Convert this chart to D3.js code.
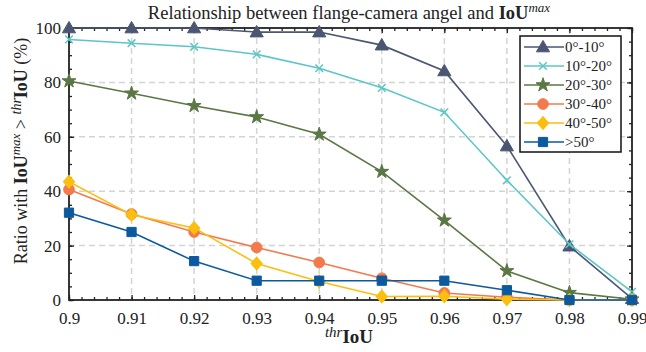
<!DOCTYPE html>
<html>
<head>
<meta charset="utf-8">
<script src="https://cdn.jsdelivr.net/npm/d3@7"></script>
<style>
  body { margin: 0; background: #fff; }
</style>
</head>
<body>
<svg id="chart" width="646" height="352"></svg>
<script>
// thresholds on x
var thresholds = [0.90, 0.91, 0.92, 0.93, 0.94, 0.95, 0.96, 0.97, 0.98, 0.99];

// ratio (%) for each angle range
var angle0to10  = [100, 100, 100, 98.5, 98.5, 93.7, 84.2, 56.6, 19.8, 0.5];
var angle10to20 = [95.8, 94.4, 93.1, 90.3, 85.2, 78.0, 69.0, 44.0, 20.5, 3.0];
var angle20to30 = [80.5, 76.0, 71.4, 67.3, 60.9, 47.2, 29.3, 10.7, 2.7, 0.3];
var angle30to40 = [40.6, 31.6, 25.0, 19.3, 13.8, 8.0, 2.6, 1.0, 0, 0];
var angle40to50 = [43.5, 31.3, 26.5, 13.4, 6.8, 1.3, 1.4, 0.3, 0, 0];
var angleOver50 = [32.1, 25.0, 14.3, 7.1, 7.1, 7.1, 7.1, 3.6, 0, 0];

var seriesNames = ["0°-10°", "10°-20°", "20°-30°", "30°-40°", "40°-50°", ">50°"];
var yTicks = [0, 20, 40, 60, 80, 100];

var colors = ["#4b5672", "#5cc6c7", "#5a7744", "#f27a4d", "#fcbe0f", "#0b5a9f"];
var markers = ["triangle", "times", "star", "circle", "diamond", "square"];

var FONT = "'Liberation Serif'";

var series = [angle0to10, angle10to20, angle20to30, angle30to40, angle40to50, angleOver50]
  .map(function (vals, i) {
    return {
      name: seriesNames[i],
      color: colors[i],
      marker: markers[i],
      points: vals.map(function (v, j) { return {x: thresholds[j], y: v}; })
    };
  });

var svg = d3.select("#chart"),
  pLeft = 69, pRight = 632, pTop = 28, pBottom = 300;

var x = d3.scaleLinear().domain([0.9, 0.99]).range([pLeft, pRight]),
  y = d3.scaleLinear().domain([0, 100]).range([pBottom, pTop]);

// grid
var grid = svg.append("g")
  .attr("stroke", "#d4d4d4")
  .attr("stroke-width", 1.5)
  .attr("stroke-dasharray", "6,4");
thresholds.slice(1, -1).forEach(function (t) {
  grid.append("line").attr("x1", x(t)).attr("x2", x(t)).attr("y1", pTop).attr("y2", pBottom);
});
yTicks.slice(1, -1).forEach(function (t) {
  grid.append("line").attr("x1", pLeft).attr("x2", pRight).attr("y1", y(t)).attr("y2", y(t));
});

// axes: ticks point inward on all four sides
var xMinor = d3.range(0, 46).map(function (i) { return 0.9 + i * 0.002; });
var yMinor = d3.range(0, 21).map(function (i) { return i * 5; });

function styleAxis(g) {
  g.attr("font-family", null);
  g.selectAll("path").remove();
  g.selectAll("line").attr("stroke", "#222").attr("stroke-width", 1.3);
  g.selectAll("text").style("font-family", FONT).style("font-size", "17px").attr("fill", "#222");
}

svg.append("g").attr("transform", "translate(0," + pBottom + ")")
  .call(d3.axisBottom(x).tickValues(xMinor).tickSize(-3).tickFormat(""))
  .call(styleAxis);
svg.append("g").attr("transform", "translate(0," + pBottom + ")")
  .call(d3.axisBottom(x).tickValues(thresholds).tickSize(-5).tickPadding(12)
    .tickFormat(function (d) { return d3.format(".2~f")(d); }))
  .call(styleAxis);
svg.append("g").attr("transform", "translate(0," + pTop + ")")
  .call(d3.axisTop(x).tickValues(xMinor).tickSize(-3).tickFormat(""))
  .call(styleAxis);
svg.append("g").attr("transform", "translate(0," + pTop + ")")
  .call(d3.axisTop(x).tickValues(thresholds).tickSize(-5).tickFormat(""))
  .call(styleAxis);

svg.append("g").attr("transform", "translate(" + pLeft + ",0)")
  .call(d3.axisLeft(y).tickValues(yMinor).tickSize(-3).tickFormat(""))
  .call(styleAxis);
svg.append("g").attr("transform", "translate(" + pLeft + ",0)")
  .call(d3.axisLeft(y).tickValues(yTicks).tickSize(-5).tickPadding(8))
  .call(styleAxis);
svg.append("g").attr("transform", "translate(" + pRight + ",0)")
  .call(d3.axisRight(y).tickValues(yMinor).tickSize(-3).tickFormat(""))
  .call(styleAxis);
svg.append("g").attr("transform", "translate(" + pRight + ",0)")
  .call(d3.axisRight(y).tickValues(yTicks).tickSize(-5).tickFormat(""))
  .call(styleAxis);

svg.append("rect")
  .attr("x", pLeft).attr("y", pTop)
  .attr("width", pRight - pLeft).attr("height", pBottom - pTop)
  .attr("fill", "none").attr("stroke", "#222").attr("stroke-width", 1.8);

// markers
function markerPath(type) {
  if (type === "triangle") return d3.symbol(d3.symbolTriangle, 75)();
  if (type === "times") return d3.symbol(d3.symbolTimes, 40)();
  if (type === "star") return d3.symbol(d3.symbolStar, 60)();
  if (type === "circle") return d3.symbol(d3.symbolCircle, 90)();
  if (type === "diamond") return d3.symbol(d3.symbolSquare, 62)();
  return d3.symbol(d3.symbolSquare, 85)();
}
function drawMarker(g, s, px, py) {
  var m = g.append("path")
    .attr("d", markerPath(s.marker))
    .attr("transform", "translate(" + px + "," + py + ")" +
      (s.marker === "diamond" ? " scale(1,1.15) rotate(45)" : "") +
      (s.marker === "triangle" ? " translate(0,1)" : ""));
  if (s.marker === "times") {
    m.attr("fill", "none").attr("stroke", s.color).attr("stroke-width", 1.5);
  } else {
    m.attr("fill", s.color).attr("stroke", s.color).attr("stroke-width", 1);
  }
}

var line = d3.line().x(function (d) { return x(d.x); }).y(function (d) { return y(d.y); });

series.forEach(function (s) {
  var g = svg.append("g");
  g.append("path").datum(s.points)
    .attr("d", line)
    .attr("fill", "none")
    .attr("stroke", s.color)
    .attr("stroke-width", 1.6);
  s.points.forEach(function (p) { drawMarker(g, s, x(p.x), y(p.y)); });
});

// legend
var legend = svg.append("g").attr("transform", "translate(520,36)");
legend.append("rect")
  .attr("width", 101).attr("height", 116)
  .attr("fill", "#fff").attr("stroke", "#111").attr("stroke-width", 1.5);
series.forEach(function (s, i) {
  var row = legend.append("g").attr("transform", "translate(0," + (11 + i * 19) + ")");
  row.append("line").attr("x1", 4).attr("x2", 44).attr("y1", 0).attr("y2", 0)
    .attr("stroke", s.color).attr("stroke-width", 1.6);
  drawMarker(row, s, 23, 0);
  row.append("text").attr("x", 45).attr("y", 5)
    .style("font-family", FONT).style("font-size", "15px").attr("fill", "#222")
    .text(s.name);
});

// title
var title = svg.append("text").attr("x", 349).attr("y", 19)
  .attr("text-anchor", "middle").attr("fill", "#222")
  .style("font-family", FONT).style("font-size", "18.5px");
title.append("tspan").text("Relationship between flange-camera angel and ");
title.append("tspan").attr("font-weight", "bold").text("IoU");
title.append("tspan").attr("font-style", "italic").style("font-size", "13px").attr("dy", -7).text("max");

// x label
var xl = svg.append("text").attr("x", 349).attr("y", 343)
  .attr("text-anchor", "middle").attr("fill", "#222")
  .style("font-family", FONT).style("font-size", "19px");
xl.append("tspan").attr("font-style", "italic").style("font-size", "15px").attr("dy", -6).text("thr");
xl.append("tspan").attr("font-weight", "bold").attr("dy", 6).text("IoU");

// y label
var yl = svg.append("text")
  .attr("transform", "translate(27,151) rotate(-90)")
  .attr("text-anchor", "middle").attr("fill", "#222")
  .style("font-family", FONT).style("font-size", "18px");
yl.append("tspan").text("Ratio with ");
yl.append("tspan").attr("font-weight", "bold").text("IoU");
yl.append("tspan").attr("font-style", "italic").style("font-size", "13px").attr("dy", -7).text("max");
yl.append("tspan").attr("dy", 7).text(" > ");
yl.append("tspan").attr("font-style", "italic").style("font-size", "14px").attr("dy", -6).text("thr");
yl.append("tspan").attr("font-weight", "bold").attr("dy", 6).text("IoU");
yl.append("tspan").text(" (%)");
</script>
</body>
</html>
